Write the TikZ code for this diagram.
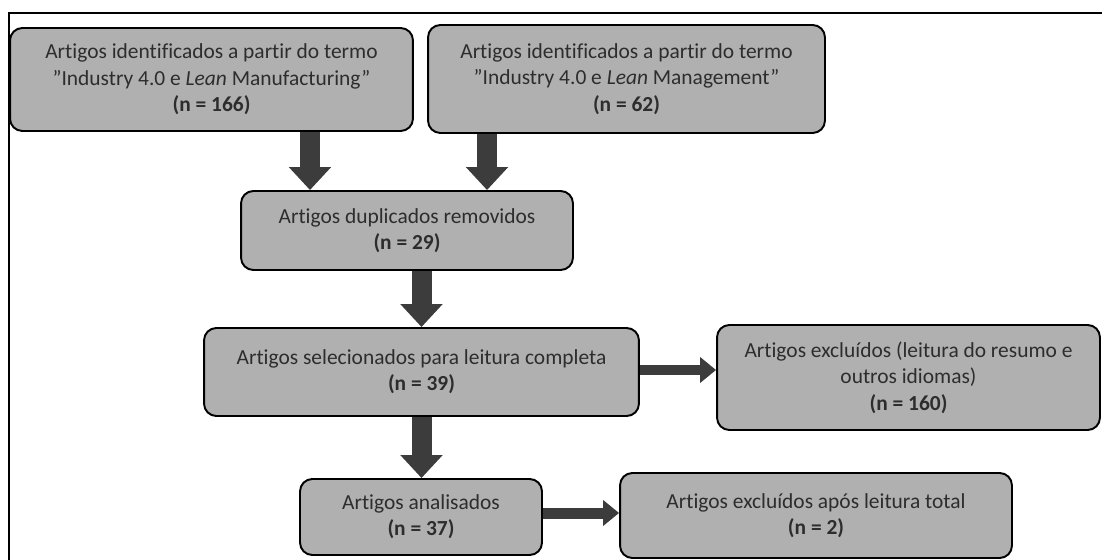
\documentclass[tikz,border=0pt]{standalone}
\usepackage{fontspec}
\setmainfont{Carlito}[Ligatures={ResetAll,CommonOff}]
\definecolor{boxgray}{RGB}{176, 176, 176}
\definecolor{arrowgray}{RGB}{60, 60, 60}
\definecolor{textgray}{RGB}{45, 45, 45}
\usetikzlibrary{arrows.meta, positioning, calc}

\begin{document}
\begin{tikzpicture}[x=0.02cm, y=-0.02cm,
  stage/.style={draw=black, line width=1.1pt, fill=boxgray, rounded corners=7pt,
                align=center, text=textgray, inner sep=2pt,
                font=\fontsize{12.2}{15}\selectfont},
  bigarrow/.style={arrowgray, line width=0.4cm, -{Triangle[width=0.82cm, length=0.46cm]}},
  sidearrow/.style={arrowgray, line width=0.22cm, -{Triangle[width=0.5cm, length=0.32cm]}},
]
\useasboundingbox (0,0) rectangle (1102,560);

% Frame (top and left edge only)
\draw[line width=1.7pt] (1102,13) -- (9,13) -- (9,560);

% Search terms
\node[stage, minimum width=8.06cm, minimum height=2.06cm] (manuf) at (211.5, 79.5)
     {Artigos identificados a partir do termo\\"Industry 4.0 e \textit{Lean} Manufacturing"\\\textbf{(n = 166)}};
\node[stage, minimum width=7.94cm, minimum height=2.16cm] (manag) at (626.5, 79)
     {Artigos identificados a partir do termo\\"Industry 4.0 e \textit{Lean} Management"\\\textbf{(n = 62)}};

% Screening
\node[stage, minimum width=6.64cm, minimum height=1.58cm] (dup) at (407, 230.5)
     {Artigos duplicados removidos\\\textbf{(n = 29)}};
\node[stage, minimum width=8.7cm, minimum height=1.76cm] (sel) at (421.5, 372)
     {Artigos selecionados para leitura completa\\\textbf{(n = 39)}};
\node[stage, minimum width=7.66cm, minimum height=2.1cm] (excl) at (908.5, 377.5)
     {Artigos excluídos (leitura do resumo e\\outros idiomas)\\\textbf{(n = 160)}};

% Final set
\node[stage, minimum width=4.84cm, minimum height=1.52cm] (anal) at (421, 517)
     {Artigos analisados\\\textbf{(n = 37)}};
\node[stage, minimum width=7.84cm, minimum height=1.7cm] (exclt) at (816, 515.5)
     {Artigos excluídos após leitura total\\\textbf{(n = 2)}};

% Arrows
\draw[bigarrow] ([xshift=1.97cm]manuf.south) -- ([xshift=1.97cm]manuf.south |- dup.north);
\draw[bigarrow] ([xshift=-2.79cm]manag.south) -- ([xshift=-2.79cm]manag.south |- dup.north);
\draw[bigarrow] (dup.south -| sel.north) -- (sel.north);
\draw[bigarrow] (sel.south) -- (sel.south |- anal.north);
\draw[sidearrow] ([yshift=0.04cm]sel.east) -- ([yshift=0.04cm]sel.east -| excl.west);
\draw[sidearrow] ([yshift=0.08cm]anal.east) -- ([yshift=0.08cm]anal.east -| exclt.west);
\end{tikzpicture}
\end{document}
